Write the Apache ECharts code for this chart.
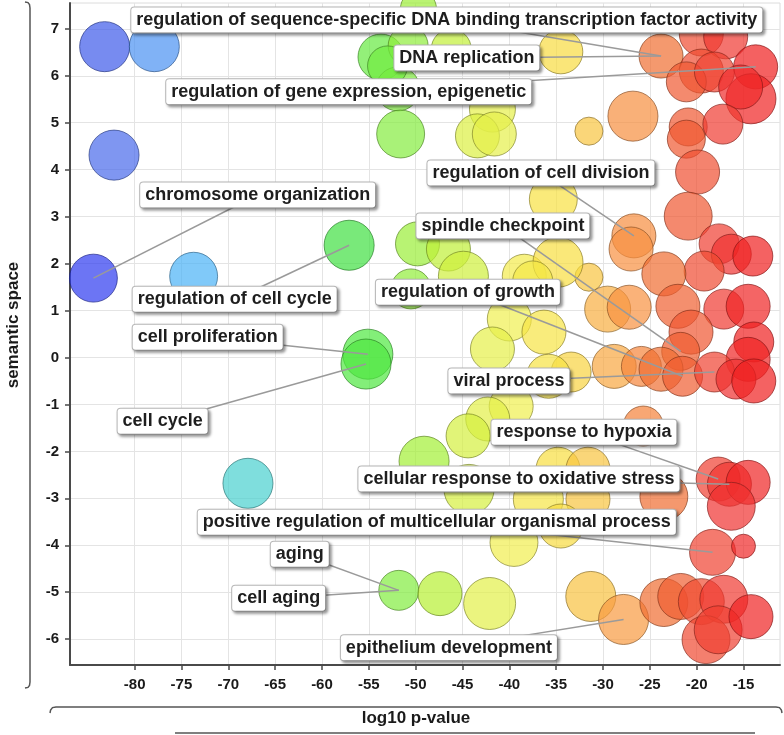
<!DOCTYPE html>
<html><head><meta charset="utf-8">
<script src="https://cdn.jsdelivr.net/npm/echarts@6/dist/echarts.min.js"></script>
<style>html,body{margin:0;padding:0;background:#fff}#c{width:784px;height:735px}</style>
</head><body><div id="c"></div>
<script>
// ---- tick labels ----
const xTicks = [-80, -75, -70, -65, -60, -55, -50, -45, -40, -35, -30, -25, -20, -15];
const yTicks = [-6, -5, -4, -3, -2, -1, 0, 1, 2, 3, 4, 5, 6, 7];

// ---- GO terms: log10 p-value (x), semantic space (y), log size ----
const termX = [
  -83.2, -77.9, -82.2, -84.4, -73.7, -57.1, -55.1, -55.3, -67.9, -51.8, -47.4, -42.1,
  -53.7, -49.7, -50.8, -46.2, -51.9, -51.6, -53.0, -41.8, -43.4, -41.6, -34.5, -35.3,
  -23.8, -19.5, -16.9, -19.5, -21.1, -18.1, -13.7, -14.2, -15.3, -26.8, -31.5, -20.9,
  -21.1, -17.2, -19.9, -20.9,
  -26.7, -27.0, -17.6, -16.3, -14.0, -19.2, -23.5, -31.5, -29.5, -27.2, -22.0, -17.1,
  -14.5, -20.6, -21.7, -13.9, -14.5, -28.8, -25.9, -23.8, -21.5, -18.1, -15.8, -13.9, -25.7,
  -49.8, -46.5, -44.9, -50.5, -38.4, -34.8, -37.5, -40.0, -36.3, -41.8, -33.4, -35.8,
  -39.8, -42.3, -44.4, -49.1, -44.3, -34.8, -36.9, -31.6, -31.6, -34.5, -39.5, -31.3,
  -27.8, -23.5,
  -17.7, -16.5, -14.5, -16.3, -18.3, -15.0, -23.5, -21.7, -19.5, -17.1, -19.0, -17.7, -14.2
];
const termY = [
  6.62, 6.62, 4.31, 1.69, 1.73, 2.39, 0.07, -0.14, -2.68, -4.96, -5.03, -5.24,
  6.40, 7.43, 6.64, 6.57, 5.72, 4.76, 6.21, 5.29, 4.72, 4.76, 6.51, 3.37,
  6.42, 6.89, 6.83, 6.10, 5.87, 6.08, 6.19, 5.51, 5.76, 5.14, 4.82, 4.91,
  4.65, 4.97, 3.95, 3.01,
  2.59, 2.31, 2.42, 2.20, 2.16, 1.84, 1.78, 1.71, 1.03, 1.07, 1.09, 1.03,
  1.09, 0.54, 0.13, 0.33, -0.04, -0.19, -0.19, -0.25, -0.40, -0.31, -0.46, -0.50, -1.46,
  2.42, 2.31, 1.73, 1.46, 1.73, 2.03, 1.63, 0.82, 0.54, 0.18, -0.31, -0.40,
  -1.04, -1.31, -1.67, -2.21, -2.81, -2.38, -3.02, -2.38, -3.02, -3.59, -3.94, -5.09,
  -5.58, -2.96,
  -2.59, -2.70, -2.66, -3.17, -4.15, -4.02, -5.22, -5.09, -5.20, -5.15, -6.01, -5.80, -5.52
];
const termSize = [
  2.86, 2.86, 2.86, 2.71, 2.71, 2.86, 2.86, 2.86, 2.86, 2.14, 2.43, 3.00,
  2.57, 1.86, 2.14, 2.14, 2.43, 2.71, 2.14, 2.57, 2.43, 2.43, 2.43, 2.71,
  2.43, 2.43, 2.43, 2.43, 2.14, 2.14, 2.43, 2.86, 2.43, 2.86, 1.29, 2.00,
  2.00, 2.14, 2.43, 2.71,
  2.43, 2.43, 2.14, 2.14, 2.14, 2.14, 2.43, 1.29, 2.57, 2.43, 2.43, 2.14,
  2.43, 2.43, 2.00, 2.14, 2.43, 2.43, 2.14, 2.43, 2.14, 2.14, 2.14, 2.43, 2.14,
  2.43, 2.43, 2.86, 2.14, 2.43, 2.86, 2.14, 2.43, 2.43, 2.43, 2.14, 2.43,
  2.43, 2.43, 2.43, 2.86, 2.86, 2.43, 2.86, 2.43, 2.43, 2.43, 2.71, 2.86,
  2.86, 2.71,
  2.43, 2.43, 2.43, 2.71, 2.57, 1.00, 2.71, 2.57, 2.57, 2.71, 2.71, 2.71, 2.43
];

// ---- annotated terms ----
const labelNames = [
  'regulation of sequence-specific DNA binding transcription factor activity',
  'DNA replication',
  'regulation of gene expression, epigenetic',
  'chromosome organization',
  'regulation of cell cycle',
  'cell proliferation',
  'cell cycle',
  'regulation of cell division',
  'spindle checkpoint',
  'regulation of growth',
  'viral process',
  'response to hypoxia',
  'cellular response to oxidative stress',
  'positive regulation of multicellular organismal process',
  'aging',
  'cell aging',
  'epithelium development'
];
const labelTarget = [24, 24, 30, 3, 5, 6, 7, 40, 54, 60, 61, 91, 92, 95, 9, 9, 89];
const labelX = [-46.67, -44.53, -57.14, -66.86, -69.32, -72.20, -77.01, -36.62, -40.68, -44.42, -40.04, -32.03, -38.97, -47.74, -62.37, -64.62, -46.45];
const labelY = [7.19, 6.38, 5.66, 3.46, 1.24, 0.43, -1.36, 3.93, 2.80, 1.39, -0.50, -1.59, -2.59, -3.51, -4.19, -5.13, -6.18];

// ---- colour scale over log10 p-value ----
const colorStops = [
  [-85, '#2830f0'], [-84, '#3040f0'], [-83, '#4060e8'], [-82, '#4a6cec'], [-78, '#4a90f2'],
  [-74, '#4ab0f8'], [-68, '#48d0d0'], [-57, '#40e040'], [-55, '#50e840'], [-52, '#80ec40'],
  [-48, '#b0f030'], [-44, '#d8f040'], [-40, '#f0f050'], [-35, '#f8e040'], [-31, '#f8c040'],
  [-27, '#f89040'], [-24, '#f07030'], [-20, '#f05030'], [-16, '#f03030'], [-13, '#f01818']
];
function hexRgb(h) { return [parseInt(h.slice(1,3),16), parseInt(h.slice(3,5),16), parseInt(h.slice(5,7),16)]; }
function colorAt(x) {
  if (x <= colorStops[0][0]) return hexRgb(colorStops[0][1]);
  for (let i = 1; i < colorStops.length; i++) {
    if (x <= colorStops[i][0]) {
      const a = colorStops[i-1], b = colorStops[i];
      const t = (x - a[0]) / (b[0] - a[0]);
      const ca = hexRgb(a[1]), cb = hexRgb(b[1]);
      return ca.map((v, k) => Math.round(v + (cb[k] - v) * t));
    }
  }
  return hexRgb(colorStops[colorStops.length-1][1]);
}
function rgba(c, a) { return 'rgba(' + c[0] + ',' + c[1] + ',' + c[2] + ',' + a + ')'; }

const bubbleData = termX.map((x, i) => {
  const c = colorAt(x);
  const d = c.map(v => Math.round(v * 0.55));
  return { value: [x, termY[i], termSize[i]], itemStyle: { color: rgba(c, 0.88), borderColor: rgba(d, 0.85) } };
});
const lineData = labelNames.map((n, i) => ({
  coords: [[labelX[i], labelY[i]], [termX[labelTarget[i]], termY[labelTarget[i]]]]
}));
const labelData = labelNames.map((n, i) => ({ name: n, value: [labelX[i], labelY[i]] }));

const FONT = '"Liberation Sans", Arial, sans-serif';
const chart = echarts.init(document.getElementById('c'), null, { renderer: 'canvas' });
chart.setOption({
  animation: false,
  backgroundColor: '#fff',
  grid: { left: 70, right: 4, top: 3, bottom: 70, show: true, borderColor: '#dcdcdc', borderWidth: 1, backgroundColor: 'transparent' },
  xAxis: {
    type: 'value', min: -86.9, max: -11.1,
    axisLine: { onZero: false, lineStyle: { color: '#4a4a4a', width: 2 } },
    axisTick: { show: true, customValues: xTicks, length: 5, lineStyle: { color: '#4a4a4a', width: 1.5 } },
    axisLabel: { customValues: xTicks, fontFamily: FONT, fontSize: 15, fontWeight: 'bold', color: '#1a1a1a', margin: 12 },
    splitLine: { show: true, lineStyle: { color: '#e4e4e4', width: 1 } }
  },
  yAxis: {
    type: 'value', min: -6.55, max: 7.55,
    axisLine: { onZero: false, lineStyle: { color: '#4a4a4a', width: 2 } },
    axisTick: { show: true, customValues: yTicks, length: 5, lineStyle: { color: '#4a4a4a', width: 1.5 } },
    axisLabel: { customValues: yTicks, fontFamily: FONT, fontSize: 15, fontWeight: 'bold', color: '#1a1a1a', margin: 11 },
    splitLine: { show: true, lineStyle: { color: '#e4e4e4', width: 1 } }
  },
  series: [
    {
      type: 'scatter', data: bubbleData, z: 2,
      symbolSize: v => 2 * (5 + 7 * v[2]),
      itemStyle: { borderWidth: 1 },
      emphasis: { disabled: true }
    },
    {
      type: 'lines', coordinateSystem: 'cartesian2d', data: lineData, z: 3, silent: true,
      lineStyle: { color: '#9a9a9a', width: 1.5, opacity: 1, curveness: 0 }
    },
    {
      type: 'scatter', data: labelData, z: 4, symbolSize: 0, silent: true,
      itemStyle: { color: '#ffffff' },
      label: {
        show: true, position: 'inside', formatter: '{b}', opacity: 1,
        fontFamily: FONT, fontSize: 18, fontWeight: 'bold', color: '#1e1e1e', lineHeight: 20,
        textBorderWidth: 0, textBorderColor: 'transparent',
        backgroundColor: '#ffffff', borderColor: '#b8b8b8', borderWidth: 1, borderRadius: 3,
        padding: [3, 5, 2, 5],
        shadowColor: 'rgba(0,0,0,0.35)', shadowBlur: 3, shadowOffsetX: 2, shadowOffsetY: 2
      }
    }
  ],
  graphic: [
    { type: 'text', x: 13, y: 325, rotation: Math.PI / 2, style: { text: 'semantic space', font: 'bold 17px ' + FONT, fill: '#1a1a1a', align: 'center', verticalAlign: 'middle' } },
    { type: 'text', x: 416, y: 718, style: { text: 'log10 p-value', font: 'bold 17px ' + FONT, fill: '#1a1a1a', align: 'center', verticalAlign: 'middle' } },
    { type: 'polyline', shape: { points: [[25,2],[28,2.6],[29.5,4.5],[30,8],[30,682],[29.5,685.5],[28,687.4],[25,688]] }, style: { stroke: '#555', lineWidth: 1.5, fill: null } },
    { type: 'polyline', shape: { points: [[50,713],[50.6,710],[52.5,707.6],[56,707],[776,707],[779.5,707.6],[781.4,710],[782,713]] }, style: { stroke: '#555', lineWidth: 1.5, fill: null } },
    { type: 'line', shape: { x1: 175, y1: 733, x2: 755, y2: 733 }, style: { stroke: '#555', lineWidth: 1.5 } }
  ]
});
</script>
</body></html>
